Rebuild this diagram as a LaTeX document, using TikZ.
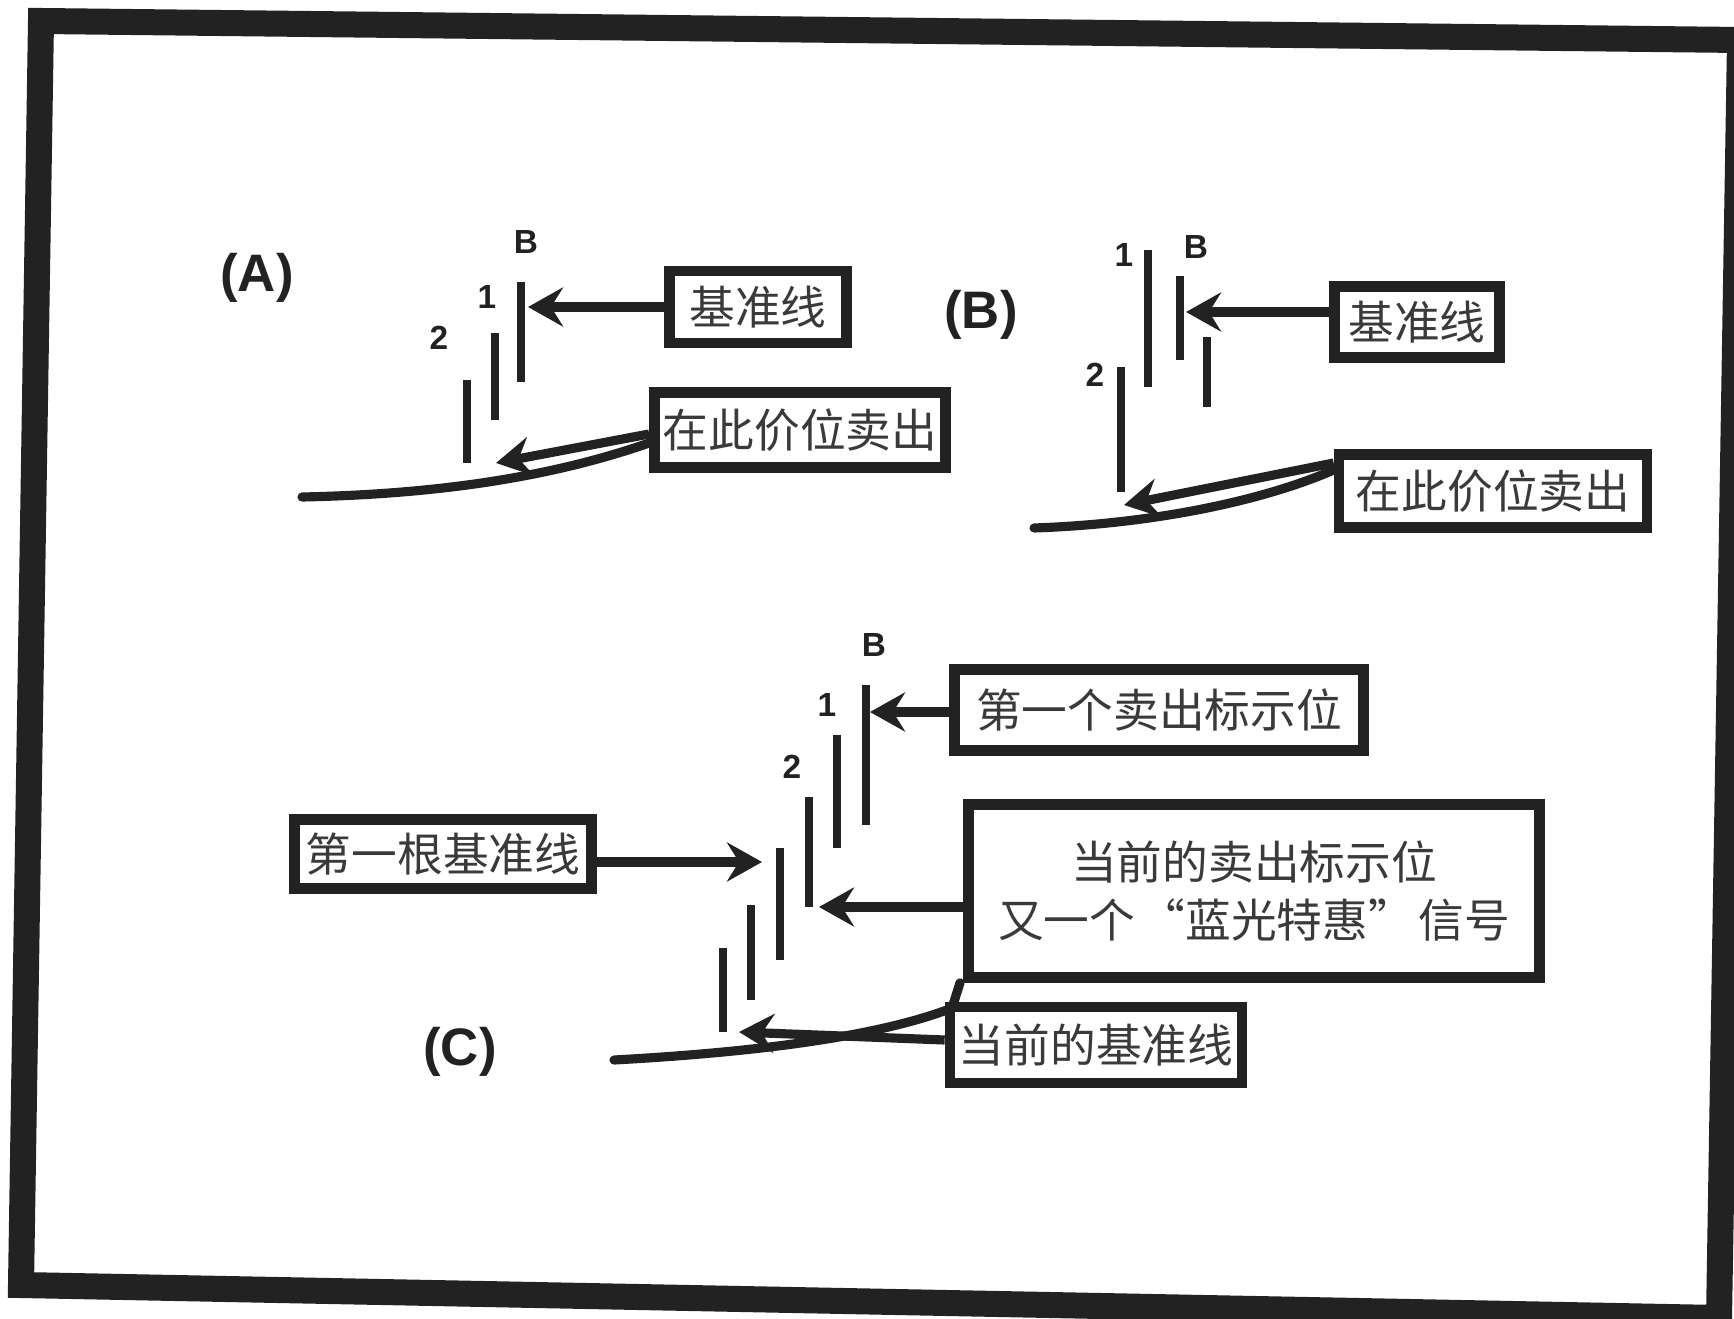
\documentclass[tikz,border=0pt]{standalone}
\usepackage{fontspec}
\setmainfont{Liberation Sans}
\newfontfamily\cjk{Noto Sans CJK SC}
\usetikzlibrary{arrows.meta}
\definecolor{ink}{HTML}{222222}
\definecolor{scan}{HTML}{3A3A3A}

\tikzset{
  lbl/.style={draw=ink,line width=3pt,inner sep=0pt,text=scan,align=center,
    font=\cjk\fontsize{13}{16.5}\selectfont},
  bar/.style={ink,line width=2.2pt},
  arr/.style={ink,line width=2.6pt,-{Stealth[length=3.5mm,width=3.9mm,inset=1.2mm]}},
  trend/.style={ink,line width=2.6pt,line cap=round},
  tag/.style={text=ink,font=\bfseries\fontsize{9.5}{10}\selectfont},
  panel/.style={text=ink,font=\bfseries\fontsize{15}{16}\selectfont},
}

\begin{document}
\begin{tikzpicture}[x=0.01cm,y=-0.01cm]
\useasboundingbox (0,0) rectangle (1734,1319);
\fill[white] (0,0) rectangle (1734,1319);
% frame
\draw[ink,line width=0.26cm,line join=miter] (41,21) -- (1740,40) -- (1719,1318) -- (21,1285) -- cycle;

% (A)
\node[panel] (pa) at (257,278) {(A)};
\foreach \x/\ya/\yb in {521/282/382,495/333/420,467/380/463}
  \draw[bar] (\x,\ya) -- (\x,\yb);
\node[tag] (ba) at (526,242) {B};
\node[tag] (a1n) at (487,297) {1};
\node[tag] (a2n) at (439,338) {2};
\node[lbl,minimum width=1.77cm,minimum height=0.72cm] (a1) at (758,307) {基准线};
\node[lbl,minimum width=2.91cm,minimum height=0.75cm] (a2) at (800,430) {在此价位卖出};
\coordinate (ta1) at (528,307);
\coordinate (ta2) at (496,463);
\draw[arr] (a1.west |- ta1) -- (ta1);
\draw[trend] (302,497) .. controls (450,494) and (560,474) .. (a2.west |- 0,443);
\draw[arr] (a2.west |- 0,434) -- (ta2);

% (B)
\node[panel] (pb) at (981,315) {(B)};
\foreach \x/\ya/\yb in {1148/250/387,1180/276/360,1207/337/407,1121/367/492}
  \draw[bar] (\x,\ya) -- (\x,\yb);
\node[tag] (bb) at (1196,247) {B};
\node[tag] (b1n) at (1124,255) {1};
\node[tag] (b2n) at (1095,375) {2};
\node[lbl,minimum width=1.65cm,minimum height=0.71cm] (b1) at (1417,322) {基准线};
\node[lbl,minimum width=3.08cm,minimum height=0.73cm] (b2) at (1493,491) {在此价位卖出};
\coordinate (tb1) at (1186,312);
\coordinate (tb2) at (1124,505);
\draw[arr] (b1.west |- tb1) -- (tb1);
\draw[trend] (1034,528) .. controls (1150,524) and (1260,502) .. (b2.west |- 0,470);
\draw[arr] (b2.west |- 0,463) -- (tb2);

% (C)
\node[panel] (pc) at (460,1052) {(C)};
\foreach \x/\ya/\yb in {866/685/825,837/735/848,809/797/907,780/848/960,751/905/1000,723/948/1032}
  \draw[bar] (\x,\ya) -- (\x,\yb);
\node[tag] (cb) at (874,645) {B};
\node[tag] (c1n) at (827,705) {1};
\node[tag] (c2n) at (792,767) {2};
\node[lbl,minimum width=2.97cm,minimum height=0.69cm] (c0) at (443,854) {第一根基准线};
\node[lbl,minimum width=4.09cm,minimum height=0.81cm] (c1) at (1159,710) {第一个卖出标示位};
\node[lbl,minimum width=5.71cm,minimum height=1.73cm] (c2) at (1254,891)
  {当前的卖出标示位\\又一个\hspace{0.1em}“蓝光特惠”\hspace{0.1em}信号};
\node[lbl,minimum width=2.92cm,minimum height=0.76cm] (c3) at (1096,1045) {当前的基准线};
\coordinate (tc0) at (762,862);
\coordinate (tc1) at (870,712);
\coordinate (tc2) at (819,907);
\coordinate (tc3) at (739,1032);
\draw[arr] (c0.east |- tc0) -- (tc0);
\draw[arr] (c1.west |- tc1) -- (tc1);
\draw[arr] (c2.west |- tc2) -- (tc2);
\draw[trend] (614,1060) .. controls (760,1052) and (880,1036) .. (952,1008) -- (960,0 |- c2.south);
\draw[arr] (c3.west |- 0,1040) -- (tc3);
\end{tikzpicture}
\end{document}
